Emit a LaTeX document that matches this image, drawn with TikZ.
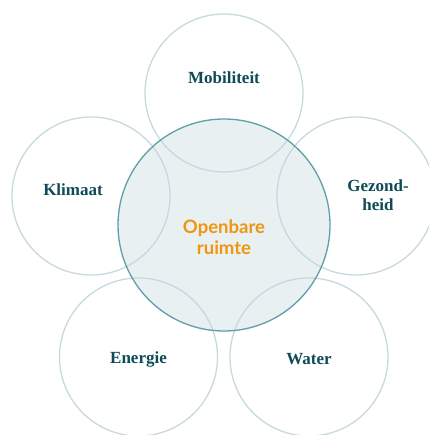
\documentclass[tikz,border=0pt]{standalone}
\usepackage{fontspec}
\setmainfont{Liberation Serif}
\newfontfamily\centrefont{Lato}
\definecolor{ringgrey}{HTML}{C7D9DD}
\definecolor{ringteal}{HTML}{5E9FA8}
\definecolor{ringfill}{HTML}{E8F0F2}
\definecolor{themetext}{HTML}{0E4B57}
\definecolor{themeorange}{HTML}{EF950F}
\tikzset{
    themering/.style={circle, draw=ringgrey, line width=1.3pt, minimum size=158pt, inner sep=0pt},
    themelabel/.style={font=\bfseries\fontsize{17}{18.5}\selectfont, text=themetext, align=center},
}
\begin{document}
\begin{tikzpicture}[x=1pt,y=-1pt]
    \useasboundingbox (0,0) rectangle (428,435);

    % middle circle, filled first
    \node[circle, fill=ringfill, minimum size=212pt, inner sep=0pt] (ruimte) at (224,225) {};

    % surrounding themes
    \node[themering] (mobiliteit) at (224,93) {};
    \node[themering] (klimaat) at (91,196) {};
    \node[themering] (gezondheid) at (356,196) {};
    \node[themering] (energie) at (138.5,357) {};
    \node[themering] (water) at (309,357) {};

    \node[circle, draw=ringteal, line width=1.3pt, minimum size=212pt, inner sep=0pt] (ruimterand) at (ruimte.center) {};

    \node[themelabel] (mobtxt) at (224,78) {Mobiliteit};
    \node[themelabel] (klimtxt) at (73,190) {Klimaat};
    \node[themelabel] (gezontxt) at (378,195) {Gezond-\\heid};
    \node[themelabel] (enertxt) at (138.5,359) {Energie};
    \node[themelabel] (wattxt) at (309,359) {Water};
    \node[font=\centrefont\bfseries\fontsize{18.5}{21}\selectfont, text=themeorange, align=center] (ruimtetxt) at (224,237) {Openbare\\ruimte};
\end{tikzpicture}
\end{document}
